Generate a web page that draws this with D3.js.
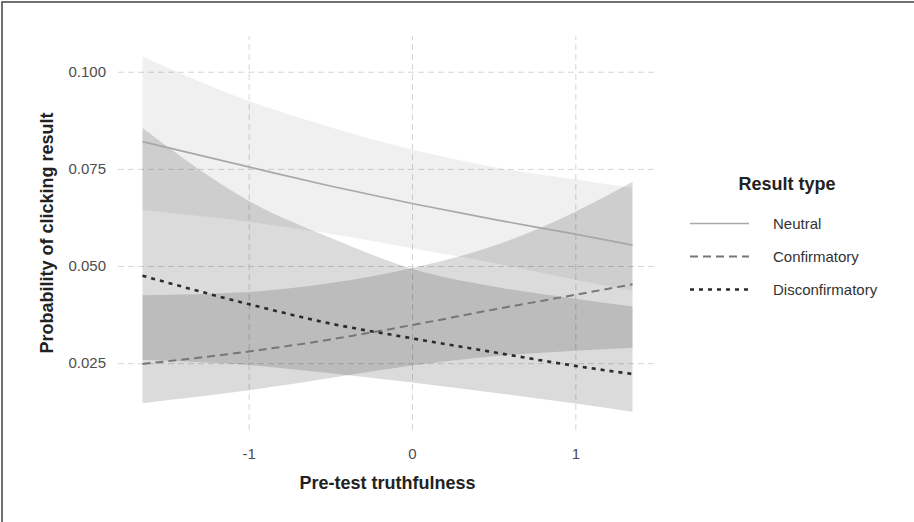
<!DOCTYPE html>
<html>
<head>
<meta charset="utf-8">
<script src="https://cdn.jsdelivr.net/npm/d3@7"></script>
<style>
	body { margin: 0; background: #fff; }
	svg { display: block; font-family: "Liberation Sans", Arial, sans-serif; }
</style>
</head>
<body>
<svg id="chart"></svg>
<script>
// ---------- DATA ----------
const truthfulness = [-1.65, -1, -0.5, 0, 0.5, 1, 1.35];

const neutralFit = [0.082, 0.0755, 0.0706, 0.0661, 0.062, 0.0582, 0.0554];
const neutralLow = [0.0644, 0.0614, 0.0583, 0.0546, 0.0508, 0.0465, 0.0437];
const neutralHigh = [0.1039, 0.0925, 0.0857, 0.08, 0.0755, 0.0723, 0.0701];

const confFit = [0.0248, 0.028, 0.0311, 0.0348, 0.0388, 0.0426, 0.0453];
const confLow = [0.0147, 0.018, 0.0212, 0.0244, 0.0268, 0.0282, 0.029];
const confHigh = [0.0425, 0.0433, 0.0456, 0.0495, 0.0552, 0.064, 0.0717];

const discFit = [0.0475, 0.0402, 0.0352, 0.0314, 0.0278, 0.0243, 0.0222];
const discLow = [0.0259, 0.0245, 0.0224, 0.02, 0.0174, 0.0146, 0.0125];
const discHigh = [0.0855, 0.0668, 0.0573, 0.0493, 0.0447, 0.0416, 0.0396];

const resultTypes = ["Neutral", "Confirmatory", "Disconfirmatory"];
const xTicks = [-1, 0, 1];
const yTicks = [0.025, 0.05, 0.075, 0.1];

// ---------- LAYOUT ----------
const size = { w: 914, h: 522 };
const panel = { left: 118, right: 657, top: 36, bottom: 430 };

const styles = {
	Neutral: { stroke: "#a8a8a8", width: 1.7, dash: null, band: 0.06 },
	Confirmatory: { stroke: "#777", width: 2, dash: "8,5", band: 0.14 },
	Disconfirmatory: { stroke: "#2b2b2b", width: 2.6, dash: "4,5", band: 0.14 },
};

const series = [
	{ name: "Neutral", fit: neutralFit, low: neutralLow, high: neutralHigh },
	{ name: "Confirmatory", fit: confFit, low: confLow, high: confHigh },
	{ name: "Disconfirmatory", fit: discFit, low: discLow, high: discHigh },
];

const svg = d3.select("#chart").attr("width", size.w).attr("height", size.h);

const x = d3.scaleLinear().domain([-1.8, 1.5]).range([panel.left, panel.right]);
const y = d3.scaleLinear().domain([0.0078, 0.1092]).range([panel.bottom, panel.top]);

// frame
svg.append("rect")
	.attr("x", 2).attr("y", 2)
	.attr("width", 1000).attr("height", 1000)
	.attr("fill", "none")
	.attr("stroke", "#444")
	.attr("stroke-width", 1.5);

// grid + axes
const yAxis = svg.append("g")
	.attr("transform", `translate(${panel.left},0)`)
	.call(d3.axisLeft(y)
		.tickValues(yTicks)
		.tickSize(-(panel.right - panel.left))
		.tickPadding(12)
		.tickFormat(d3.format(".3f")));

const xAxis = svg.append("g")
	.attr("transform", `translate(0,${panel.bottom})`)
	.call(d3.axisBottom(x)
		.tickValues(xTicks)
		.tickSize(-(panel.bottom - panel.top))
		.tickPadding(18)
		.tickFormat((d) => String(d)));

[xAxis, yAxis].forEach((ax) => {
	ax.select(".domain").remove();
	ax.selectAll("line")
		.attr("stroke", "#d6d6d6")
		.attr("stroke-width", 1)
		.attr("stroke-dasharray", "6,4");
	ax.selectAll("text")
		.attr("fill", "#4d4d4d")
		.style("font-size", "15px");
});

// confidence bands
const area = d3.area()
	.x((d, i) => x(truthfulness[i]))
	.y0((d) => y(d[0]))
	.y1((d) => y(d[1]))
	.curve(d3.curveMonotoneX);

svg.append("g")
	.selectAll("path")
	.data(series)
	.enter()
	.append("path")
	.attr("d", (s) => area(s.low.map((v, i) => [v, s.high[i]])))
	.attr("fill", "#000")
	.attr("fill-opacity", (s) => styles[s.name].band);

// fitted lines
const line = d3.line()
	.x((d, i) => x(truthfulness[i]))
	.y((d) => y(d))
	.curve(d3.curveMonotoneX);

svg.append("g")
	.selectAll("path")
	.data(series)
	.enter()
	.append("path")
	.attr("d", (s) => line(s.fit))
	.attr("fill", "none")
	.attr("stroke", (s) => styles[s.name].stroke)
	.attr("stroke-width", (s) => styles[s.name].width)
	.attr("stroke-dasharray", (s) => styles[s.name].dash);

// axis titles
svg.append("text")
	.attr("x", (panel.left + panel.right) / 2)
	.attr("y", 489)
	.attr("text-anchor", "middle")
	.attr("font-weight", "bold")
	.style("font-size", "18px")
	.attr("fill", "#222")
	.text("Pre-test truthfulness");

svg.append("text")
	.attr("transform", `translate(53,${(panel.top + panel.bottom) / 2}) rotate(-90)`)
	.attr("text-anchor", "middle")
	.attr("font-weight", "bold")
	.style("font-size", "18px")
	.attr("fill", "#222")
	.text("Probability of clicking result");

// legend
const legend = svg.append("g").attr("transform", "translate(690,0)");

legend.append("text")
	.attr("x", 97)
	.attr("y", 190)
	.attr("text-anchor", "middle")
	.attr("font-weight", "bold")
	.style("font-size", "18px")
	.attr("fill", "#222")
	.text("Result type");

const keys = legend.selectAll("g.key")
	.data(resultTypes)
	.enter()
	.append("g")
	.classed("key", true)
	.attr("transform", (d, i) => `translate(0,${223.5 + i * 33})`);

keys.append("line")
	.attr("x1", 0).attr("x2", 59)
	.attr("stroke", (d) => styles[d].stroke)
	.attr("stroke-width", (d) => styles[d].width)
	.attr("stroke-dasharray", (d) => styles[d].dash);

keys.append("text")
	.attr("x", 83)
	.attr("dy", "0.35em")
	.style("font-size", "15px")
	.attr("fill", "#333")
	.text((d) => d);
</script>
</body>
</html>
